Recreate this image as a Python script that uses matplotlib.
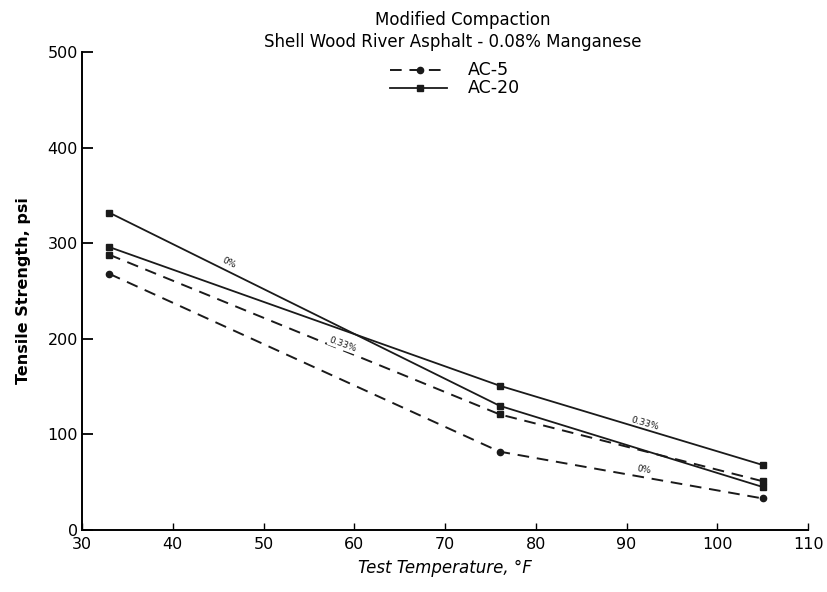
import matplotlib.pyplot as plt

# test temperatures, deg F
temps = [33, 76, 105]

# tensile strength, psi
ac5_0 = [268, 82, 33]
ac5_033 = [288, 121, 51]
ac20_0 = [332, 130, 45]
ac20_033 = [296, 151, 68]

ink = "#1a1a1a"
dash = (0, (6, 4))

fig = plt.figure(figsize=(8.27, 5.92), dpi=100)
ax = fig.add_axes([0.0992, 0.1047, 0.878, 0.8074])

ax.plot(temps, ac5_0, color=ink, lw=1.4, linestyle=dash, marker="o", ms=4.5)
ax.plot(temps, ac5_033, color=ink, lw=1.4, linestyle=dash, marker="s", ms=4.5)
ax.plot(temps, ac20_0, color=ink, lw=1.3, marker="s", ms=5)
ax.plot(temps, ac20_033, color=ink, lw=1.3, marker="s", ms=5)

# inline percent labels
ax.text(46.2, 279, "0%", fontsize=6.5, rotation=-26, ha="center", va="center", color=ink)
ax.text(58.7, 194, "0.33%", fontsize=6.5, rotation=-20, ha="center", va="center",
        color=ink, bbox=dict(facecolor="white", edgecolor="none", pad=0.5))
ax.text(92.0, 111, "0.33%", fontsize=6.5, rotation=-16, ha="center", va="center", color=ink)
ax.text(91.9, 63, "0%", fontsize=6.5, rotation=-10, ha="center", va="center", color=ink)

ax.set_xlim(30, 110)
ax.set_ylim(0, 500)
ax.set_xticks(range(30, 111, 10))
ax.set_yticks(range(0, 501, 100))
ax.spines["top"].set_visible(False)
ax.spines["right"].set_visible(False)
ax.spines["left"].set_linewidth(1.4)
ax.spines["bottom"].set_linewidth(1.4)
ax.tick_params(axis="y", direction="in", length=8, width=1.3, labelsize=11.5, pad=3)
ax.tick_params(axis="x", direction="in", length=5, width=1, labelsize=11.5, pad=5)

ax.set_xlabel("Test Temperature, °F", fontsize=12, style="italic", labelpad=5)
ax.set_ylabel("Tensile Strength, psi", fontsize=11.5, fontweight="bold", labelpad=12)

fig.text(0.559, 0.966, "Modified Compaction", fontsize=12, ha="center", va="center")
fig.text(0.548, 0.929, "Shell Wood River Asphalt - 0.08% Manganese", fontsize=12,
         ha="center", va="center")

# legend drawn by hand at figure coords
fig.lines.append(plt.Line2D([0.472, 0.540], [0.882, 0.882], color=ink, lw=1.4,
                            linestyle=dash, transform=fig.transFigure))
fig.lines.append(plt.Line2D([0.508], [0.882], color=ink, marker="o", ms=4.5,
                            transform=fig.transFigure))
fig.lines.append(plt.Line2D([0.472, 0.540], [0.851, 0.851], color=ink, lw=1.3,
                            transform=fig.transFigure))
fig.lines.append(plt.Line2D([0.508], [0.851], color=ink, marker="s", ms=5,
                            transform=fig.transFigure))
fig.text(0.566, 0.882, "AC-5", fontsize=12.5, va="center")
fig.text(0.566, 0.851, "AC-20", fontsize=12.5, va="center")

fig.savefig("out.png", dpi=100, facecolor="white")
